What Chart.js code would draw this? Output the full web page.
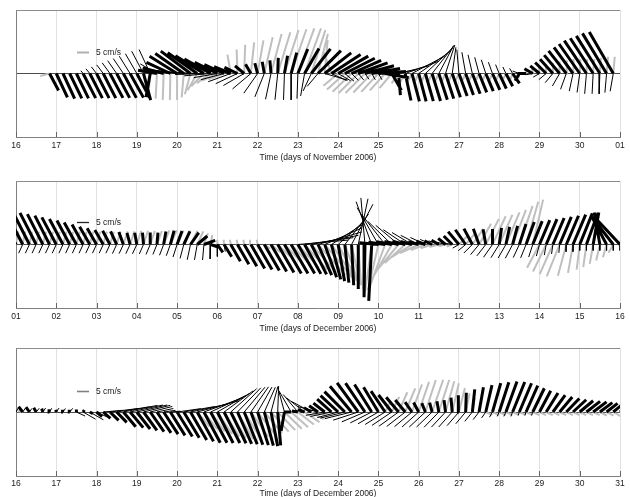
<!DOCTYPE html>
<html>
<head>
<meta charset="utf-8">
<title>Current sticks</title>
<script src="https://cdn.jsdelivr.net/npm/chart.js@4.4.1/dist/chart.umd.min.js"></script>
<style>
  html, body { margin: 0; padding: 0; background: #fff; width: 630px; height: 497px; overflow: hidden; }
  canvas { position: absolute; left: 0; }
</style>
</head>
<body>
<canvas id="c1" width="630" height="168" style="top:0px"></canvas>
<canvas id="c2" width="630" height="168" style="top:171px"></canvas>
<canvas id="c3" width="630" height="168" style="top:338px"></canvas>
<script>
// one stick every 4 hours; speed in cm/s, direction in degrees (0 = east, 90 = north)
const perDay = 6;

const p1Ticks = ['16','17','18','19','20','21','22','23','24','25','26','27','28','29','30','01'];
const p2Ticks = ['01','02','03','04','05','06','07','08','09','10','11','12','13','14','15','16'];
const p3Ticks = ['16','17','18','19','20','21','22','23','24','25','26','27','28','29','30','31'];

// ---- panel 1: 16 Nov - 1 Dec ----
const p1ThickSpd = [
  null,null,null,null,null,8,
  11,11.5,11.5,11.5,11.5,11.5,
  11.5,11.5,11.5,11.5,11.5,11.5,
  11.5,11.5,10,8,9,11,
  13.5,14.5,15.5,15,14,12.5,
  10.5,9,7.5,6,5,4.5,
  4.5,5,5.5,6.5,7.5,9,
  11,12,13,13.5,14,14.5,
  14.5,14,13.5,13,12.5,12,
  11.5,10,8,9,11.5,12,
  12,12,12,11.5,11,10.5,
  10,9.5,9,8.5,8,7.5,
  7,6,5,3.5,3.5,4,
  5,6.5,8,10,12,13.5,
  15,16.5,17.5,18.5,19.5,20,
  null];
const p1ThickDir = [
  null,null,null,null,null,-62,
  -65,-65,-64,-64,-63,-63,
  -63,-63,-62,-62,-62,-61,
  -62,-75,-100,170,165,155,
  148,145,143,145,148,151,
  154,156,158,155,140,120,
  105,100,95,88,80,75,
  68,60,52,45,38,33,
  30,27,24,20,15,10,
  4,-10,-60,-85,-78,-75,
  -75,-74,-73,-72,-72,-71,
  -70,-70,-69,-68,-67,-66,
  -65,-62,-55,-120,180,150,
  140,135,132,130,128,126,
  125,124,123,122,121,120,
  null];
const p1ThinSpd = [
  null,null,null,null,null,null,
  null,null,null,null,1.5,2.5,
  3.5,4.5,5.5,6.5,7.5,8.5,
  9.5,10.5,11,8,9,10,
  11,12,13,13,12,11,
  10,10,10,10,10,10,
  10,10.5,11,11,11,11,
  10.5,9.5,8,7,10,7,
  6,5,4,3.5,3,3,
  3,5,10,13,15,15.5,
  16,15.5,15,13,12.5,11,
  10,9,8,7,6,5,
  4,3,2.5,3,4,3,
  3,4,5,6,7,7.5,
  8,8.5,8.5,8.5,8,7.5,
  null];
const p1ThinDir = [
  null,null,null,null,null,null,
  null,null,null,null,130,130,
  128,127,126,125,124,122,
  120,118,115,150,165,170,
  172,174,176,178,-178,-175,
  -170,-165,-160,-155,-150,-140,
  -125,-112,-102,-96,-92,-90,
  -92,-100,-115,-130,-16,-25,
  -30,-40,-45,-50,-55,-60,
  -60,0,8,14,20,28,
  35,43,52,62,72,82,
  95,100,103,105,108,110,
  112,115,120,160,180,-170,
  -150,-140,-130,-120,-110,-102,
  -98,-95,-93,-92,-95,-100,
  null];
const p1GraySpd = [
  null,null,null,null,null,4,
  null,null,null,null,null,null,
  null,null,null,null,null,null,
  null,null,9,10.5,11,11,
  11,10,9,8,7.5,7,
  7,7,8,10,12,13,
  14,15.5,17,18,19,19.5,
  20,20,19,17,14,10,
  8,10,11,11.5,11.5,11,
  10.5,9.5,8,5,4,4,
  3.5,3.5,3.5,3.5,3.5,3.5,
  3.5,3,3,3,3,3,
  3,2.5,2.5,2,2,2,
  3,4,4.5,5,5.5,6,
  6,6,6,6.5,7,7,
  null];
const p1GrayDir = [
  null,null,null,null,null,-165,
  null,null,null,null,null,null,
  null,null,null,null,null,null,
  null,null,-95,-93,-92,-91,
  -90,-95,-105,-120,-135,-145,
  -155,-160,100,92,88,84,
  80,77,75,73,72,71,
  70,70,72,76,85,110,
  -140,-138,-136,-135,-135,-134,
  -133,-132,-130,-125,-120,-118,
  -115,-115,-115,-115,-115,-115,
  -115,-115,-115,-115,-115,-115,
  -115,-115,-110,-100,90,100,
  95,92,90,90,88,88,
  87,87,86,86,85,85,
  null];

// ---- panel 2: 1 Dec - 16 Dec ----
const p2ThickSpd = [
  16,15.5,15,14.8,14.2,13.5,
  12.8,12,11.3,10.5,9.5,8.5,
  7.8,7,6.5,6,5.5,5,
  5,5,5,5,5.5,6,
  6,6,6,5.5,5,3,
  4,6,8,9.5,10.5,11.5,
  12,12.5,13,13.5,14,14,
  14,14,14,14,14.5,15,
  15.5,16,17,18.5,22,23.5,
  8,7,6.5,6,5.5,5,
  4.5,4,3.5,3.5,4,5,
  7,7.5,7.5,7,6.5,6.5,
  7,7.5,8,9,10,10.5,
  11,11.5,12,12.5,13,13.5,
  14,14,13.5,13.5,14,15,
  15.5];
const p2ThickDir = [
  117,117,117,117,117,117,
  118,118,118,119,119,120,
  120,120,118,115,110,105,
  100,95,90,85,80,75,
  70,65,55,40,20,-20,
  -55,-58,-60,-60,-60,-60,
  -60,-60,-60,-60,-60,-60,
  -60,-61,-63,-66,-70,-75,
  -80,-84,-87,-90,-91,-93,
  175,172,170,168,166,165,
  165,160,155,150,140,135,
  130,125,118,110,100,90,
  82,78,75,72,70,68,
  67,67,67,67,67,67,
  68,70,80,100,118,128,
  133];
const p2ThinSpd = [
  4,4,4,4,4,4,
  4,4,4,4,4,4,
  4,4,4,4.2,4.2,4.2,
  4.3,4.3,4.5,4.5,4.8,5,
  5.5,6,6.5,6.5,6.5,6,
  5,3,3,3,3,3,
  3,3,3,3,3,3,
  21,20.5,20,19,17,16,
  15.5,16,19,19.5,19.5,19,
  17.7,15.8,13.7,12.4,11,9.7,
  8.4,6.9,5.4,4.5,3.5,3,
  3,4,5,5.5,6,6.5,
  6.5,6.5,6.5,6,6,5.5,
  5,4.5,4,3.5,3,3,
  2.5,2.5,2.5,2.5,2.5,2.5,
  2.5];
const p2ThinDir = [
  -115,-115,-115,-115,-115,-115,
  -115,-115,-115,-115,-115,-115,
  -115,-115,-115,-115,-115,-115,
  -115,-114,-113,-112,-111,-110,
  -108,-105,-102,-100,-95,-92,
  -90,-80,-60,-60,-60,-60,
  -60,-60,-60,-60,-60,-60,
  5,8,11,16,24,33,
  42,52,62,78,95,110,
  120,128,136,140,146,149,
  153,155,157,160,165,170,
  -150,-140,-135,-130,-128,-125,
  -122,-120,-118,-115,-112,-108,
  -105,-100,-98,-95,-92,-90,
  -90,-90,-90,-90,-90,-90,
  -90];
const p2GraySpd = [
  5.5,5.5,5.5,5.5,5.5,5.5,
  5.5,5.5,5.5,5.5,5.5,5.5,
  5.5,5.5,5.5,5.5,5.8,5.8,
  6,6,6,6,6.3,6.5,
  6.5,6.5,6.5,6,5,4,
  2,2,2,2,2,2,
  2,3,5,7,9,11,
  13,14,15.5,17,18.5,18.5,
  18,17.5,17,17,18.5,20,
  19.5,18,16,13.5,11.5,10,
  8.5,6.5,5,4,3,2.5,
  5,6.5,8,10,12,13,
  13.5,14.5,15.5,17,18.5,19.2,
  11,12.5,13.5,14.3,13.5,12,
  10.5,9.5,8.2,6.8,5.5,4,
  4];
const p2GrayDir = [
  80,79,78,77,76,75,
  75,75,75,75,75,75,
  74,74,73,73,72,72,
  72,72,71,70,68,66,
  65,64,63,65,70,80,
  90,95,100,100,100,100,
  100,-35,-40,-44,-46,-47,
  -48,-48,-48,-48,-50,-55,
  -62,-70,-78,-86,-92,-98,
  -103,-110,-120,-130,-138,-148,
  -155,-159,-162,-165,-165,-160,
  45,50,55,60,63,65,
  66,67,69,71,74,77,
  -118,-116,-114,-112,-105,-100,
  -97,-98,-100,-103,-106,-120,
  80];

// ---- panel 3: 16 Dec - 31 Dec ----
const p3ThickSpd = [
  3,2.8,2.5,2,1.5,1.2,
  1,1,1,1,1,1.5,
  3,4,5,6,8,8.5,
  9,9.5,10,10.5,11,11.5,
  12,12.5,13.5,14,14.5,14.5,
  14.5,14.5,14.5,14.5,14.5,14.5,
  14.5,14.5,14.5,14,8,3,
  2.5,3,3.5,4.5,6,8,
  10,12,14,15,14.5,13.5,
  12,10.5,9,8,6.5,5,
  4.5,4,4,4.5,5,6,
  7,8,9.5,10.5,11.5,12.5,
  13,13.5,13.5,13,12,11,
  10,9.3,8.7,8.2,7.8,7.5,
  7.3,7.2,7,6.5,5.8,4.5,
  3.5];
const p3ThickDir = [
  130,128,125,120,110,100,
  100,100,100,90,60,-30,
  -40,-42,-44,-46,-50,-50,
  -52,-54,-55,-56,-57,-58,
  -58,-59,-60,-61,-62,-62,
  -63,-63,-64,-66,-68,-70,
  -72,-75,-79,-85,-100,180,
  170,160,150,145,142,138,
  137,135,130,126,124,122,
  121,124,128,130,130,125,
  118,112,105,100,97,95,
  92,88,84,80,77,74,
  72,70,68,67,66,64,
  62,58,54,50,46,43,
  40,38,37,37,38,40,
  42];
const p3ThinSpd = [
  2,2,1.8,2,2,1.8,
  2,1.8,2,4,6,6.5,
  5,8,12,14,14.5,14,
  13,11.5,9.5,7,5,4,
  10,13,16,18,17,16,
  15.5,15,14.5,14,13.5,12.8,
  12,11.3,11,10.8,10.5,10,
  9.5,9.5,9.5,9,8,9,
  9,10.5,11.5,11,10.5,10,
  9.8,9.8,10,10,9.8,9.5,
  9.3,9.2,9,8.8,8.6,8.4,
  7.5,6.4,5,4,3,2.5,
  2,2,2,1.5,1.5,1.5,
  null,null,null,null,null,null,
  null,null,null,null,null,null,
  null];
const p3ThinDir = [
  60,55,55,50,55,60,
  55,55,50,-25,-30,-30,
  -25,5,7,9,11,12,
  13,14,14,12,8,5,
  8,10,12,15,20,25,
  30,36,42,46,50,55,
  60,66,75,88,105,120,
  130,142,152,165,-170,-168,
  -165,-166,-166,-162,-157,-153,
  -150,-148,-146,-144,-142,-140,
  -138,-137,-136,-134,-133,-132,
  -131,-130,-129,-128,-125,-120,
  -115,-115,-112,-110,-110,-110,
  null,null,null,null,null,null,
  null,null,null,null,null,null,
  null];
const p3GraySpd = [
  2,2,null,null,null,null,
  null,null,null,null,null,null,
  null,null,null,null,null,null,
  null,null,null,null,null,null,
  null,null,null,8,9,10,
  11,12,12.5,13,13,12.5,
  12,11.5,11,10.5,10,9.5,
  8.5,7.5,6,4,null,null,
  null,null,null,null,null,null,
  null,5,7,9,10.7,12.2,
  13.3,14,14.2,14,13.3,12.3,
  10.3,8,6,4,3,3,
  3,3,3,3,3,3,
  3,3,3,3,3,3,
  3,3,3,3.2,3.3,3.5,
  3.5];
const p3GrayDir = [
  170,170,null,null,null,null,
  null,null,null,null,null,null,
  null,null,null,null,null,null,
  null,null,null,null,null,null,
  null,null,null,-50,-52,-54,
  -56,-58,-60,-60,-58,-55,
  -52,-50,-48,-46,-44,-42,
  -38,-34,-30,-25,null,null,
  null,null,null,null,null,null,
  null,62,64,66,67,70,
  71,72,71,72,74,77,
  76,78,80,85,-25,-25,
  -25,-25,-25,-25,-25,-25,
  -25,-25,-25,-25,-25,-25,
  -25,-25,-26,-27,-28,-30,
  -30];

const FONT = '"Liberation Sans", Arial, Helvetica, sans-serif';

const panels = [
  { id: 'c1', min: 16, max: 31, plotH: 127, ticks: p1Ticks, title: 'Time (days of November 2006)',
    tickPad: 3.4, titlePad: 5.6, keyColor: '#b0b0b0', keyWidth: 2, keyY: 8.9,
    series: [[p1ThickSpd, p1ThickDir], [p1ThinSpd, p1ThinDir], [p1GraySpd, p1GrayDir]] },
  { id: 'c2', min: 1, max: 16, plotH: 127, ticks: p2Ticks, title: 'Time (days of December 2006)',
    tickPad: 3.4, titlePad: 5.6, keyColor: '#222', keyWidth: 1.3, keyY: 9.2,
    series: [[p2ThickSpd, p2ThickDir], [p2ThinSpd, p2ThinDir], [p2GraySpd, p2GrayDir]] },
  { id: 'c3', min: 16, max: 31, plotH: 128, ticks: p3Ticks, title: 'Time (days of December 2006)',
    tickPad: 2.2, titlePad: 7.2, keyColor: '#808080', keyWidth: 1.6, keyY: 8.75,
    series: [[p3ThickSpd, p3ThickDir], [p3ThinSpd, p3ThinDir], [p3GraySpd, p3GrayDir]] }
];

// turn speed/direction into sticks from the zero line; k = days per cm/s on screen
function sticks(t0, spd, dir, k) {
  const pts = [];
  spd.forEach((s, i) => {
    if (s == null || dir[i] == null) return;
    const t = t0 + i / perDay;
    const a = dir[i] * Math.PI / 180;
    pts.push({ x: t, y: 0 }, { x: t + s * Math.cos(a) * k, y: s * Math.sin(a) }, { x: t, y: NaN });
  });
  return pts;
}

const framePlugin = {
  id: 'frame',
  afterDraw(chart, args, o) {
    const { ctx, chartArea: a } = chart;
    const x = chart.scales.x, y = chart.scales.y;
    ctx.save();
    ctx.lineWidth = 1;
    ctx.strokeStyle = '#8c8c8c';
    ctx.beginPath();
    ctx.moveTo(a.left, Math.round(a.top) + 0.5);
    ctx.lineTo(a.right, Math.round(a.top) + 0.5);
    ctx.stroke();
    // inward tick marks
    ctx.strokeStyle = '#666';
    ctx.beginPath();
    x.ticks.forEach(t => {
      const px = Math.round(x.getPixelForValue(t.value)) + 0.5;
      ctx.moveTo(px, a.bottom);
      ctx.lineTo(px, a.bottom - 5);
    });
    ctx.stroke();
    // 5 cm/s key
    const kx = x.getPixelForValue(x.min + 1.515);
    const ky = Math.round(y.getPixelForValue(o.keyY)) + 0.5;
    const len = y.getPixelForValue(0) - y.getPixelForValue(5);
    ctx.strokeStyle = o.keyColor;
    ctx.lineWidth = o.keyWidth;
    ctx.beginPath();
    ctx.moveTo(kx, ky);
    ctx.lineTo(kx + len, ky);
    ctx.stroke();
    ctx.fillStyle = '#1a1a1a';
    ctx.font = '8.5px ' + FONT;
    ctx.textBaseline = 'middle';
    ctx.fillText('5 cm/s', kx + len + 7, ky + 0.5);
    ctx.restore();
  }
};

function makePanel(p) {
  const yMax = p.plotH / 4.8; // 2.4 px per cm/s
  const chart = new Chart(document.getElementById(p.id), {
    type: 'line',
    data: {
      datasets: [
        { label: 'thick', data: [], borderColor: '#000', borderWidth: 3, order: 0 },
        { label: 'thin', data: [], borderColor: '#000', borderWidth: 1, order: 1 },
        { label: 'gray', data: [], borderColor: '#bfbfbf', borderWidth: 2, order: 2 }
      ]
    },
    options: {
      responsive: false,
      animation: false,
      devicePixelRatio: 1,
      events: [],
      layout: { padding: { left: 16, right: 10, top: 10, bottom: 0 } },
      elements: {
        point: { radius: 0 },
        line: { tension: 0, borderCapStyle: 'butt', fill: false }
      },
      plugins: {
        legend: { display: false },
        tooltip: { enabled: false },
        frame: { keyColor: p.keyColor, keyWidth: p.keyWidth, keyY: p.keyY }
      },
      scales: {
        x: {
          type: 'linear', position: 'bottom', min: p.min, max: p.max,
          afterFit: s => { s.height = 168 - 10 - p.plotH; },
          grid: { color: '#e2e2e2', lineWidth: 1, drawTicks: false },
          border: { color: '#808080' },
          ticks: {
            stepSize: 1, autoSkip: false, maxRotation: 0, padding: p.tickPad,
            color: '#1a1a1a', font: { family: FONT, size: 8.5 },
            callback: v => p.ticks[Math.round(v - p.min)]
          },
          title: {
            display: true, text: p.title, color: '#1a1a1a',
            font: { family: FONT, size: 8.5 }, padding: { top: 0, bottom: p.titlePad }
          }
        },
        y: {
          type: 'linear', min: -yMax, max: yMax,
          afterBuildTicks: s => { s.ticks = [{ value: 0 }]; },
          afterFit: s => { s.width = 0; },
          grid: { color: '#4d4d4d', lineWidth: 1, drawTicks: false },
          border: { color: '#808080' },
          ticks: { display: false }
        }
      }
    },
    plugins: [framePlugin]
  });
  const x = chart.scales.x, y = chart.scales.y;
  const k = (y.getPixelForValue(0) - y.getPixelForValue(1)) /
            (x.getPixelForValue(p.min + 1) - x.getPixelForValue(p.min));
  p.series.forEach((s, i) => {
    chart.data.datasets[i].data = sticks(p.min, s[0], s[1], k);
  });
  chart.update('none');
}

panels.forEach(makePanel);
</script>
</body>
</html>
